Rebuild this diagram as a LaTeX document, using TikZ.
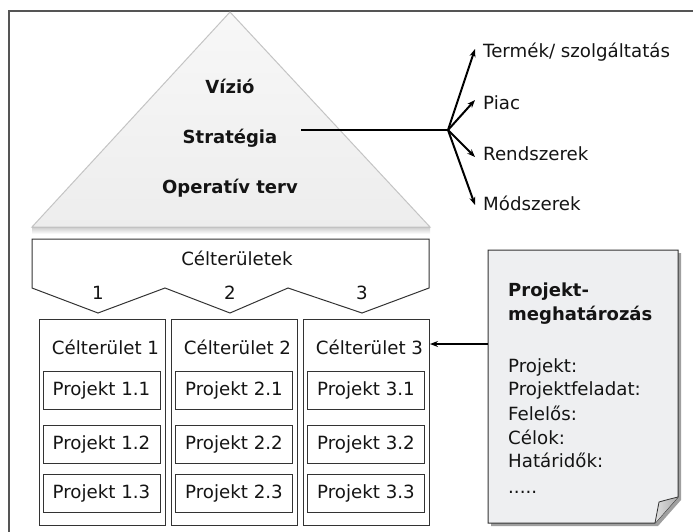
\documentclass[tikz,border=0pt]{standalone}
\usepackage{fontspec}
\setmainfont{DejaVu Sans}
\usetikzlibrary{arrows.meta,calc}
\definecolor{txt}{HTML}{141414}
\definecolor{framec}{HTML}{555555}
\definecolor{boxc}{HTML}{333333}
\definecolor{docfill}{HTML}{EEEFF1}
\definecolor{triedge}{HTML}{C4C4C4}
\begin{document}
\begin{tikzpicture}[x=1pt,y=-1pt,
  every node/.style={text=txt,font=\fontsize{18.2}{22}\selectfont},
  boldtxt/.style={font=\fontsize{18}{22}\selectfont\bfseries},
  label/.style={anchor=west,inner sep=2pt},
  framel/.style={draw=framec,line width=1.2pt},
  boxl/.style={draw=boxc,line width=1pt},
  colbox/.style={boxl,minimum width=126pt,minimum height=206pt,inner sep=0pt},
  proj/.style={boxl,minimum width=117pt,minimum height=38pt,inner sep=0pt},
  heavy/.style={line width=2pt,draw=black},
  arr/.style={heavy,-{Stealth[length=8pt,width=6pt]}}]
\useasboundingbox (0,0) rectangle (693,532);
% outer frame
\draw[framel] (9,540) -- (9,11) -- (700,11);
% triangle
\fill[gray!55] (32,227) rectangle (430,229);
\shade[top color=gray!35,bottom color=white] (32,228) rectangle (430,234);
\shade[top color=gray!6,bottom color=gray!14] (230,12) -- (430,227) -- (32,227) -- cycle;
\draw[triedge,line width=1pt] (230,12) -- (430,227) -- (32,227) -- cycle;
\node[boldtxt] (vizio) at (230,86) {Vízió};
\node[boldtxt] (strat) at (230,138) {Stratégia};
\node[boldtxt] (oper) at (230,188) {Operatív terv};
% branches
\coordinate (s0) at (301,130);
\coordinate (hub) at (448,130);
\node[label] (t1) at (481,52) {Termék/ szolgáltatás};
\node[label] (t2) at (481,103) {Piac};
\node[label] (t3) at (481,154) {Rendszerek};
\node[label] (t4) at (481,203) {Módszerek};
\draw[heavy] (s0) -- (hub);
\draw[arr] (hub) -- ([xshift=-6pt,yshift=3pt]t1.west);
\draw[arr] (hub) -- ([xshift=-6pt,yshift=3pt]t2.west);
\draw[arr] (hub) -- ([xshift=-6pt,yshift=-3pt]t3.west);
\draw[arr] (hub) -- ([xshift=-6pt,yshift=-2pt]t4.west);
% chevron
\draw[boxl] (32,239) -- (429,239) -- (429,288) -- (362,313) -- (288,288) -- (230,313)
  -- (165,288) -- (98,313) -- (32,288) -- cycle;
\node (cel) at (237,258) {Célterületek};
\node (n1) at (98,293) {1};
\node (n2) at (230,293) {2};
\node (n3) at (362,293) {3};
% columns
\node[colbox] (col1) at (102,422) {};
\node[colbox] (col2) at (234,422) {};
\node[colbox] (col3) at (366,422) {};
\node (ct1) at (105.5,347) {Célterület 1};
\node (ct2) at (237.5,347) {Célterület 2};
\node (ct3) at (369.5,347) {Célterület 3};
\node[proj] (p11) at (101.5,390) {Projekt 1.1};
\node[proj] (p12) at (101.5,444) {Projekt 1.2};
\node[proj] (p13) at (101.5,493.5) {Projekt 1.3};
\node[proj] (p21) at (234,390) {Projekt 2.1};
\node[proj] (p22) at (234,444) {Projekt 2.2};
\node[proj] (p23) at (234,493.5) {Projekt 2.3};
\node[proj] (p31) at (366,390) {Projekt 3.1};
\node[proj] (p32) at (366,444) {Projekt 3.2};
\node[proj] (p33) at (366,493.5) {Projekt 3.3};
% document
\fill[gray!75] (491,253) -- (681,253) -- (681,500) -- (658,526) -- (491,526) -- cycle;
\fill[docfill] (488,250) -- (678,250) -- (678,497) -- (655,523) -- (488,523) -- cycle;
\draw[boxl] (488,250) -- (678,250) -- (678,497) -- (655,523) -- (488,523) -- cycle;
\shade[left color=gray!25,right color=gray!65] (655,523) .. controls (657,512) .. (659,502) .. controls (666,500) .. (678,497) -- cycle;
\draw[boxc,line width=0.8pt] (655,523) .. controls (657,512) .. (659,502) .. controls (666,500) .. (678,497);
\node[minimum width=190pt,minimum height=273pt,inner sep=0pt] (doc) at (583,386.5) {};
\node[label,boldtxt] (d1) at (506,292) {Projekt-};
\node[label,boldtxt] (d2) at (506,315) {meghatározás};
\node[label] (d3) at (506,367) {Projekt:};
\node[label] (d4) at (506,390) {Projektfeladat:};
\node[label] (d5) at (506,413) {Felelős:};
\node[label] (d6) at (506,437) {Célok:};
\node[label] (d7) at (506,460) {Határidők:};
\node[label] (d8) at (506,492) {.....};
\coordinate (a3) at (430,344);
\draw[arr] (doc.west |- a3) -- (a3);
\end{tikzpicture}
\end{document}
